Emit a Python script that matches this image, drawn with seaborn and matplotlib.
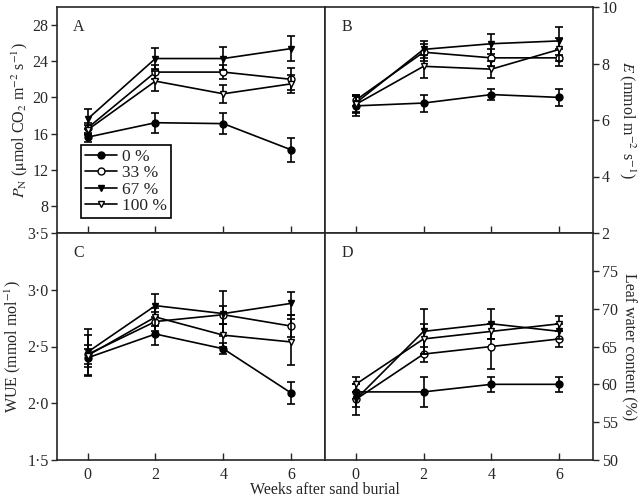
import numpy as np
import pandas as pd
import matplotlib
matplotlib.use("Agg")
import matplotlib.pyplot as plt
import seaborn as sns
from matplotlib.ticker import FuncFormatter

# data
weeks = [0, 2, 4, 6]
levels = ["0 %", "33 %", "67 %", "100 %"]

pn_mean = {"0 %": [15.6, 17.2, 17.1, 14.2],
           "33 %": [16.6, 22.8, 22.8, 22.0],
           "67 %": [17.6, 24.3, 24.3, 25.4],
           "100 %": [16.4, 21.8, 20.4, 21.5]}
pn_err = {"0 %": [0.5, 1.1, 1.2, 1.3],
          "33 %": [0.6, 0.8, 0.8, 1.2],
          "67 %": [1.1, 1.2, 1.3, 1.4],
          "100 %": [0.6, 1.1, 1.0, 1.0]}

e_mean = {"0 %": [6.5, 6.6, 6.9, 6.8],
          "33 %": [6.7, 8.4, 8.2, 8.2],
          "67 %": [6.6, 8.5, 8.7, 8.8],
          "100 %": [6.55, 7.9, 7.8, 8.5]}
e_err = {"0 %": [0.35, 0.3, 0.2, 0.3],
         "33 %": [0.2, 0.3, 0.3, 0.3],
         "67 %": [0.3, 0.3, 0.35, 0.5],
         "100 %": [0.3, 0.4, 0.3, 0.4]}

wue_mean = {"0 %": [2.40, 2.61, 2.48, 2.09],
            "33 %": [2.43, 2.72, 2.78, 2.68],
            "67 %": [2.45, 2.86, 2.79, 2.88],
            "100 %": [2.42, 2.76, 2.60, 2.54]}
wue_err = {"0 %": [0.08, 0.1, 0.05, 0.1],
           "33 %": [0.08, 0.08, 0.08, 0.1],
           "67 %": [0.2, 0.1, 0.2, 0.1],
           "100 %": [0.18, 0.08, 0.1, 0.2]}

lwc_mean = {"0 %": [59, 59, 60, 60],
            "33 %": [58, 64, 65, 66],
            "67 %": [58, 67, 68, 67],
            "100 %": [60, 66, 67, 68]}
lwc_err = {"0 %": [1, 2, 1, 1],
           "33 %": [1, 1, 3, 1],
           "67 %": [2, 3, 2, 1],
           "100 %": [1, 2, 1, 1]}

styles = {"0 %": ("o", "black"),
          "33 %": ("o", "white"),
          "67 %": ("v", "black"),
          "100 %": ("v", "white")}

sns.set_style("ticks")
plt.rcParams["font.family"] = ["Liberation Serif", "DejaVu Serif"]
plt.rcParams["mathtext.fontset"] = "stix"
plt.rcParams["font.size"] = 11.5

fig = plt.figure(figsize=(6.4, 5.0), dpi=100)
axA = fig.add_axes([0.089, 0.534, 0.419, 0.452])
axB = fig.add_axes([0.508, 0.534, 0.419, 0.452])
axC = fig.add_axes([0.089, 0.080, 0.419, 0.454])
axD = fig.add_axes([0.508, 0.080, 0.419, 0.454])


def draw(ax, means, errs):
    for lv in levels:
        mk, fc = styles[lv]
        df = pd.DataFrame({"week": weeks, "val": means[lv]})
        ax.errorbar(weeks, means[lv], yerr=errs[lv], fmt="none",
                    ecolor="black", elinewidth=1.2, capsize=3, capthick=1.2)
        sns.lineplot(data=df, x="week", y="val", ax=ax, color="black",
                     marker=mk, markerfacecolor=fc, markeredgecolor="black",
                     markersize=5, markeredgewidth=1.0, linewidth=1.2,
                     label=lv, legend=False)
    ax.set_xlim(-0.9, 7)
    ax.set_xticks(weeks)
    ax.tick_params(axis="x", direction="in", length=5, width=1, pad=5)
    ax.tick_params(axis="y", direction="out", length=4, width=1, pad=2)
    for s in ax.spines.values():
        s.set_linewidth(1.2)
        s.set_visible(True)
    ax.set_xlabel("")


dotfmt = FuncFormatter(lambda v, p: f"{v:.1f}".replace(".", "\u00b7"))

draw(axA, pn_mean, pn_err)
axA.set_ylim(5, 30)
axA.set_yticks([8, 12, 16, 20, 24, 28])
axA.set_ylabel(r"$P_\mathrm{N}$ ($\mathrm{\mu}$mol CO$_2$ m$^{-2}$ s$^{-1}$)", labelpad=2)
axA.tick_params(axis="x", labelbottom=False)
axA.text(0.06, 0.945, "A", transform=axA.transAxes, va="top", ha="left")

draw(axB, e_mean, e_err)
axB.set_ylim(2, 10)
axB.set_yticks([2, 4, 6, 8, 10])
axB.yaxis.tick_right()
axB.yaxis.set_label_position("right")
axB.set_ylabel(r"$E$ (mmol m$^{-2}$ s$^{-1}$)", rotation=270, labelpad=14)
axB.tick_params(axis="x", labelbottom=False)
axB.text(0.06, 0.945, "B", transform=axB.transAxes, va="top", ha="left")

draw(axC, wue_mean, wue_err)
axC.set_ylim(1.5, 3.5)
axC.set_yticks([1.5, 2.0, 2.5, 3.0, 3.5])
axC.yaxis.set_major_formatter(dotfmt)
axC.set_ylabel(r"WUE (mmol mol$^{-1}$)", labelpad=3)
axC.text(0.06, 0.945, "C", transform=axC.transAxes, va="top", ha="left")

draw(axD, lwc_mean, lwc_err)
axD.set_ylim(50, 80)
axD.set_yticks([50, 55, 60, 65, 70, 75])
axD.yaxis.tick_right()
axD.yaxis.set_label_position("right")
axD.set_ylabel("Leaf water content (%)", rotation=270, labelpad=14)
axD.text(0.06, 0.945, "D", transform=axD.transAxes, va="top", ha="left")

handles, labels = axA.get_legend_handles_labels()
leg = axA.legend(handles, labels, loc="lower left", bbox_to_anchor=(0.09, 0.066),
                 frameon=True, fancybox=False, edgecolor="black", framealpha=1,
                 handlelength=1.8, handletextpad=0.3, borderpad=0.25,
                 labelspacing=0.0, fontsize=12.5, borderaxespad=0)
leg.get_frame().set_linewidth(1.2)

fig.text(0.508, 0.02, "Weeks after sand burial", ha="center", va="center")

fig.savefig("out.png", dpi=100)
